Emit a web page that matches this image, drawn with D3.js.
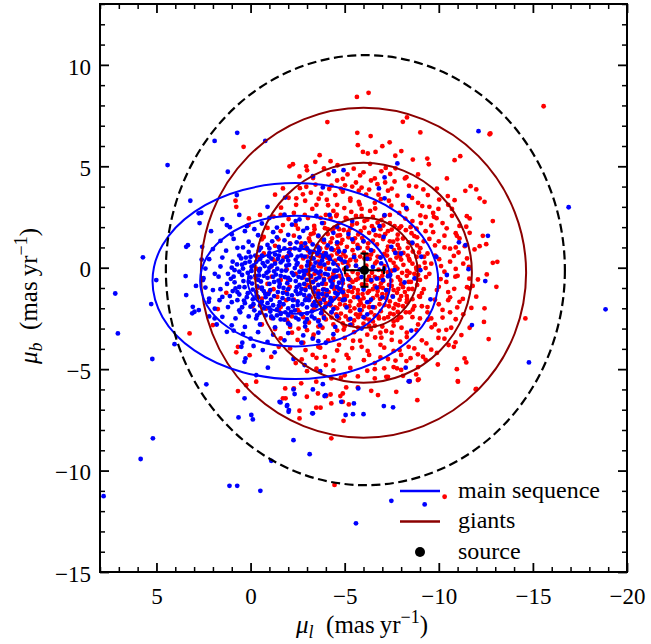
<!DOCTYPE html>
<html>
<head>
<meta charset="utf-8">
<script src="https://cdn.jsdelivr.net/npm/d3@7"></script>
<style>
  body { margin: 0; background: #fff; }
  svg text { font-family: "Liberation Serif", "Times New Roman", "DejaVu Serif", "Noto Serif", "FreeSerif", Times, serif; fill: #000; }
</style>
</head>
<body>
<script>
// Tick labels
const xTicks = [5, 0, -5, -10, -15, -20];
const yTicks = [10, 5, 0, -5, -10, -15];

// Source position and its errors (mas/yr)
const source = [-6.05, -0.12];
const sourceErr = [1.04, 0.82];

// Gaussian fits: centre, sigma, and the n-sigma contours drawn
const msCentre = [-2.38, -0.66];
const msSigma = [2.53, 1.61];
const giantsCentre = [-6.0, -0.25];
const giantsSigma = [2.88, 2.71];
const nSigma = [1, 2, 3];
const limitCircle = [-6.1, -0.12, 10.6];

// Giants (flat x,y lists)
const giantsCore = [
 -5.1,2.42, -5.65,2.18, -6.2,2.37, -6.75,2.22, -5.9,2.55, -6.5,2.5,
 -4.45,1.98, -4.95,1.86, -5.4,2.12, -6.05,1.97, -6.55,1.9, -7.05,2.08, -7.5,1.88, -4.7,2.2,
 -4.1,1.66, -4.62,1.58, -5.2,1.78, -5.72,1.64, -6.3,1.72, -6.85,1.57, -7.3,1.8, -7.82,1.63, -4.35,1.82,
 -3.82,1.33, -4.33,1.45, -4.88,1.37, -5.45,1.27, -5.93,1.46, -6.5,1.33, -7.04,1.41, -7.58,1.28, -8.1,1.44, -3.6,1.55,
 -3.55,1.08, -4.04,0.98, -4.6,1.16, -5.12,1.03, -5.68,1.12, -6.22,0.98, -6.72,1.15, -7.3,1.04, -7.82,1.12, -8.35,0.98, -8.6,1.2,
 -3.38,0.79, -3.9,0.72, -4.42,0.87, -4.93,0.7, -5.42,0.86, -6.02,0.74, -6.52,0.82, -7.1,0.68, -7.62,0.86, -8.12,0.73, -8.62,0.8,
 -3.28,0.45, -3.7,0.56, -4.22,0.43, -4.78,0.52, -5.3,0.38, -5.82,0.55, -6.33,0.44, -6.9,0.51, -7.42,0.38, -7.93,0.56, -8.42,0.44, -8.82,0.53,
 -3.18,0.18, -3.62,0.08, -4.12,0.24, -4.63,0.13, -5.14,0.26, -5.6,0.09, -6.62,0.21, -7.12,0.08, -7.6,0.24, -8.12,0.14, -8.6,0.2, -8.95,0.05,
 -3.1,-0.12, -3.52,-0.22, -4.02,-0.05, -4.5,-0.16, -4.98,-0.08, -5.42,-0.2, -6.8,-0.1, -7.3,-0.22, -7.8,-0.04, -8.32,-0.16, -8.82,-0.1,
 -3.22,-0.46, -3.72,-0.36, -4.2,-0.52, -4.7,-0.4, -5.2,-0.47, -5.72,-0.53, -6.3,-0.44, -6.82,-0.52, -7.32,-0.36, -7.83,-0.46, -8.3,-0.4, -8.78,-0.52,
 -3.3,-0.72, -3.82,-0.8, -4.38,-0.64, -4.9,-0.76, -5.42,-0.7, -5.92,-0.82, -6.42,-0.68, -6.93,-0.77, -7.48,-0.64, -8.0,-0.81, -8.52,-0.7,
 -3.42,-1.0, -3.9,-1.06, -4.42,-0.94, -4.92,-1.12, -5.48,-1.0, -6.02,-0.95, -6.5,-1.06, -7.02,-0.99, -7.6,-1.1, -8.1,-0.96, -8.6,-1.05,
 -3.52,-1.3, -4.02,-1.36, -4.6,-1.24, -5.12,-1.4, -5.7,-1.3, -6.22,-1.24, -6.72,-1.36, -7.24,-1.3, -7.78,-1.24, -8.3,-1.4,
 -3.7,-1.6, -4.22,-1.66, -4.72,-1.55, -5.3,-1.66, -5.82,-1.6, -6.3,-1.7, -6.88,-1.54, -7.4,-1.66, -7.92,-1.58, -8.32,-1.55,
 -4.0,-1.9, -4.5,-1.96, -5.02,-1.85, -5.52,-2.0, -6.02,-1.9, -6.6,-1.96, -7.12,-1.84, -7.6,-2.0, -8.1,-1.9,
 -4.3,-2.2, -4.8,-2.26, -5.3,-2.14, -5.82,-2.3, -6.4,-2.2, -6.92,-2.14, -7.42,-2.26, -7.82,-2.18,
 -4.7,-2.5, -5.2,-2.56, -5.72,-2.44, -6.3,-2.56, -6.82,-2.5, -7.3,-2.44, -5.4,-2.8, -6.0,-2.76, -6.6,-2.86,
 -4.8,1.2, -5.5,0.62, -6.7,0.3, -7.7,0.05, -4.4,-0.28, -5.6,-0.6, -6.6,-0.9, -7.2,-1.5, -5.0,-1.6, -4.0,-0.8,
 -3.6,0.3, -8.4,-0.7, -8.0,0.4, -7.4,1.3, -6.0,1.3, -5.2,1.5, -4.3,0.6, -3.9,-1.5, -5.9,-2.1, -6.8,-2.4,
 -7.7,-1.8, -8.7,-0.3, -4.6,-2.0, -5.4,-1.2, -6.2,-0.6, -7.0,-0.4, -6.4,0.65, -5.8,0.98, -4.9,0.25, -7.9,0.95,
 -3.45,-0.6, -4.7,1.9, -6.9,1.9, -5.95,-1.3, -7.5,-0.9, -8.2,-1.2, -3.9,1.25, -5.1,-0.35, -7.6,-2.3, -5.5,-2.6,
 -4.65,0.95, -5.2,0.1, -6.15,0.1, -6.45,-0.25, -5.25,-0.9, -6.75,-1.15, -7.05,-0.2, -7.75,0.5, -4.5,0.35, -6.05,0.45,
 -5.55,1.45, -6.65,1.6, -7.25,0.6, -4.95,-1.3, -5.85,-1.75, -7.3,-1.1, -3.75,0.05, -8.3,-1.7, -4.45,-1.05, -6.25,1.2,
 -6.35,2.8, -5.6,2.55, -7.4,2.2, -4.25,2.45, -8.45,0.35, -3.0,0.55, -3.05,-0.3, -8.9,-0.35, -4.0,-1.75, -8.05,-0.25
];
const giantsFill = [
 -3.35,1.7, -3.95,1.95, -4.55,2.55, -5.35,2.75, -6.05,2.3, -6.95,2.35, -7.65,2.05, -8.25,1.85, -8.85,1.5, -9.2,1.3,
 -3.15,1.3, -3.7,0.95, -4.25,1.25, -4.75,1.6, -5.3,1.95, -5.85,1.8, -6.45,2.05, -7.15,1.65, -7.8,1.4, -8.4,1.25,
 -3.05,0.85, -3.55,0.62, -4.05,0.5, -4.6,0.7, -5.05,0.55, -5.6,0.35, -6.2,0.62, -6.75,0.55, -7.25,0.85, -7.85,0.7,
 -8.35,0.6, -8.95,0.75, -9.25,0.25, -8.8,0.0, -8.45,-0.25, -7.95,-0.6, -7.5,-0.15, -7.05,-0.65, -6.6,-0.45, -6.15,-0.85,
 -5.7,-0.3, -5.3,-0.6, -4.85,-0.55, -4.35,-0.45, -3.9,-0.55, -3.4,-0.3, -3.0,-0.85, -3.6,-1.15, -4.15,-1.2, -4.7,-1.05,
 -5.2,-1.15, -5.7,-1.1, -6.3,-1.15, -6.85,-0.95, -7.35,-0.85, -7.85,-1.05, -8.4,-1.05, -8.85,-0.85, -9.1,-1.25, -8.6,-1.55,
 -8.0,-1.4, -7.55,-1.4, -7.0,-1.3, -6.5,-1.5, -6.0,-1.5, -5.5,-1.45, -4.95,-1.5, -4.45,-1.5, -3.95,-1.3, -3.35,-1.75,
 -3.8,-2.2, -4.25,-1.85, -4.75,-1.8, -5.25,-1.9, -5.75,-1.85, -6.3,-1.95, -6.85,-1.8, -7.35,-1.9, -7.85,-1.85, -8.45,-2.2,
 -8.0,-2.45, -7.6,-2.65, -7.1,-2.5, -6.6,-2.35, -6.1,-2.5, -5.6,-2.3, -5.05,-2.4, -4.55,-2.3, -4.0,-2.55, -4.4,-2.8,
 -4.95,-3.05, -5.7,-2.95, -6.3,-2.85, -6.9,-3.2, -7.6,-2.85, -8.3,-3.2, -3.6,-2.9, -3.35,-3.3, -7.9,1.95, -8.5,2.0,
 -4.0,2.6, -4.6,3.1, -5.05,2.45, -5.75,3.25, -6.6,3.2, -7.35,3.3, -8.1,3.1, -6.3,3.85, -7.15,4.2, -5.4,4.0,
 -4.3,4.05, -3.75,3.65, -2.9,3.3, -2.4,2.1, -2.1,1.2, -1.75,0.5, -1.6,-0.6, -1.9,-1.6, -2.2,-2.4, -2.55,-3.0,
 -9.5,-0.3, -9.8,0.6, -10.0,-1.8, -9.4,-2.2, -9.7,1.75, -10.3,1.0, -10.6,0.3, -10.5,-1.2, -9.3,2.5, -9.0,-2.5
];
const giantsMid = [
 -4.62,5.05, -5.48,4.88, -6.35,5.12, -7.18,4.92,
 -3.32,4.42, -4.14,4.6, -4.9,4.38, -5.82,4.55, -6.6,4.4, -7.42,4.62, -8.28,4.46,
 -2.62,3.92, -3.45,4.1, -4.18,3.88, -5.02,4.06, -5.9,3.95, -6.74,4.12, -7.5,3.9, -8.42,4.04, -9.18,3.86,
 -2.02,3.45, -2.78,3.62, -3.62,3.4, -4.5,3.58, -5.3,3.42, -6.14,3.6, -6.92,3.38, -7.8,3.55, -8.58,3.44, -9.42,3.58, -10.02,3.36,
 -1.62,2.96, -2.42,3.1, -3.28,2.9, -4.12,3.08, -4.98,2.94, -5.8,3.12, -6.62,2.92, -7.48,3.06, -8.3,2.88, -9.12,3.04, -9.98,2.9, -10.5,3.1,
 -1.22,2.52, -2.02,2.4, -2.88,2.6, -3.72,2.46, -4.58,2.62, -7.4,2.6, -8.22,2.42, -9.02,2.58, -9.88,2.44, -10.7,2.56,
 -0.9,1.96, -1.72,2.1, -2.52,1.92, -3.38,2.06, -4.1,1.9, -8.0,2.04, -8.82,1.92, -9.6,2.08, -10.42,1.94, -11.1,2.06,
 -0.7,1.52, -1.48,1.4, -2.3,1.58, -3.1,1.44, -8.7,1.56, -9.5,1.42, -10.3,1.58, -11.1,1.44,
 -0.52,0.98, -1.3,1.08, -2.1,0.92, -2.92,1.04, -9.02,0.96, -9.8,1.1, -10.6,0.94, -11.38,1.06,
 -0.4,0.52, -1.18,0.42, -2.0,0.58, -2.8,0.46, -9.22,0.54, -10.02,0.42, -10.8,0.58, -11.5,0.46,
 -0.3,-0.04, -1.1,0.06, -1.92,-0.08, -2.7,0.04, -9.3,-0.02, -10.12,0.08, -10.9,-0.06, -11.6,0.04,
 -0.28,-0.52, -1.12,-0.44, -1.98,-0.56, -2.8,-0.48, -9.32,-0.46, -10.1,-0.56, -10.88,-0.44, -11.62,-0.54,
 -0.42,-0.98, -1.22,-1.06, -2.08,-0.94, -2.9,-1.04, -9.2,-1.06, -10.0,-0.94, -10.82,-1.04, -11.5,-0.96,
 -0.6,-1.52, -1.42,-1.44, -2.3,-1.58, -3.2,-1.46, -9.0,-1.44, -9.8,-1.58, -10.6,-1.46, -11.28,-1.54,
 -0.82,-2.02, -1.6,-1.94, -2.5,-2.08, -3.4,-1.96, -8.62,-2.06, -9.4,-1.94, -10.2,-2.08, -10.98,-1.96,
 -1.1,-2.48, -1.92,-2.56, -2.8,-2.44, -3.62,-2.58, -4.3,-2.46, -7.8,-2.58, -8.6,-2.44, -9.42,-2.56, -10.2,-2.46, -10.9,-2.54,
 -1.3,-3.02, -2.1,-2.92, -3.0,-3.08, -3.82,-2.96, -4.6,-3.1, -5.5,-3.18, -6.4,-3.04, -7.2,-3.12, -8.02,-2.96, -8.82,-3.08, -9.62,-2.94, -10.4,-3.06,
 -1.6,-3.48, -2.5,-3.56, -3.32,-3.44, -4.12,-3.58, -5.0,-3.46, -5.82,-3.6, -6.62,-3.44, -7.5,-3.56, -8.3,-3.42, -9.1,-3.58, -9.98,-3.46,
 -2.1,-3.98, -2.92,-4.06, -3.7,-3.94, -4.6,-4.08, -5.4,-3.96, -6.22,-4.1, -7.1,-3.94, -7.92,-4.06, -8.7,-3.98, -9.6,-4.04,
 -2.72,-4.52, -3.5,-4.44, -4.4,-4.58, -5.2,-4.46, -6.02,-4.56, -6.9,-4.42, -7.7,-4.58, -8.5,-4.46, -9.3,-4.54,
 -3.5,-4.98, -4.4,-5.06, -5.3,-4.94, -6.2,-5.08, -7.1,-4.96, -8.0,-5.04, -4.8,-5.42, -5.7,-5.36, -6.6,-5.46, -7.3,-5.38,
 -3.0,4.8, -8.9,3.2, -10.9,1.0, -0.9,-0.8, -1.6,2.6, -9.8,-2.8, -4.0,-4.8, -7.6,-4.9, -2.2,-3.2, -10.5,-1.6,
 -8.2,4.4, -5.6,4.2, -1.3,0.3, -11.0,-0.4, -3.5,3.1, -6.9,-3.8, -5.0,-5.3, -0.6,1.4, -2.6,-2.2, -9.7,2.7,
 -4.8,3.9, -7.3,3.8, -10.3,-3.5, -1.9,-1.2, -8.0,-4.3, -3.3,-4.3,
 -5.3,3.3, -6.8,3.6, -4.4,2.8, -7.9,2.7, -3.9,2.2, -8.6,2.3, -5.9,2.9, -7.1,2.55, -4.9,3.75, -6.4,4.3,
 -9.3,1.8, -10.0,1.3, -3.4,1.9, -2.7,1.2, -9.6,0.2, -10.4,-0.7, -2.4,-0.3, -3.0,-1.5, -9.1,-1.9, -9.9,-1.1,
 -3.1,-2.7, -8.9,-2.8, -4.4,-3.5, -7.5,-3.2, -5.9,-3.9, -6.6,-4.7, -5.1,-4.3, -7.0,-2.9, -5.0,-2.9, -6.2,-3.3,
 -4.05,3.35, -5.75,3.8, -7.65,4.25, -8.8,4.0, -9.5,3.0, -10.2,2.2, -10.9,1.7, -11.3,0.2, -10.6,-2.2, -10.0,-3.1,
 -8.4,-3.9, -7.3,-4.5, -3.6,-3.9, -2.8,-3.7, -2.0,-2.7, -1.5,-2.1, -1.0,-1.2, -0.7,0.7, -1.6,1.8, -2.3,2.7,
 -3.2,3.7, -4.6,4.3, -6.0,4.7, -7.7,4.9, -6.95,4.75, -5.15,4.6, -8.85,1.1, -9.4,0.7, -9.0,-0.6, -8.95,-1.4,
 -3.9,-2.4, -4.9,-2.75, -6.5,-2.65, -7.9,-2.45, -8.7,-1.9, -3.3,-2.1, -3.2,1.65, -8.55,1.7, -9.05,2.2, -3.05,2.45,
 -5.45,-3.6, -6.95,-3.45, -7.95,-3.65, -4.7,-3.8, -3.95,-4.4, -6.3,-4.3, -7.6,-4.1, -8.25,-2.2, -9.6,-2.5, -10.3,-0.2,
 -11.9,0.9, -11.8,-0.9, -11.3,-2.3, -10.7,2.9, -9.9,3.9, -8.9,4.6, -3.9,4.9, -2.6,4.5, -1.3,3.6, -0.5,2.6,
 -0.1,-1.9, -0.6,-2.8, -1.5,-3.9, -2.4,-4.7, -3.0,-5.1, -6.6,-5.0, -8.9,-4.9, -9.9,-4.2, -10.8,-3.9, -1.1,-4.4
];
const giantsOuter = [
 -5.65,8.42, -6.27,8.62, -4.08,7.18, -8.09,7.19, -8.31,7.41, -9.02,6.67, -5.67,6.65, -6.38,6.49, -5.7,6.04, -7.39,6.18,
 -7.0,5.99, 0.37,5.96, -12.7,6.58, -15.57,7.96, -5.97,5.71, -6.23,5.63, -6.64,5.71, -8.01,5.75, -7.69,5.52, -10.84,5.3,
 -11.14,5.5, -9.39,5.38, -9.47,5.1, -8.62,5.33, -10.43,4.4, -11.69,4.02, -11.99,3.86, -11.41,3.79, -12.17,3.42, -12.43,3.25,
 -10.84,3.33, -10.48,3.53, -11.49,2.54, -12.87,2.3, -11.64,2.43, -11.46,2.02, -12.34,1.57, -12.52,1.16, -12.17,1.06, -12.87,0.24,
 -13.11,0.29, -11.05,0.75, -11.64,1.72, -10.96,1.57, -9.74,2.51,
 -2.25,5.1, -2.07,5.0, -2.96,5.0, -3.44,5.22, -3.67,5.55, -4.25,5.25, -1.72,3.91, -2.43,3.42, -2.96,3.99, 0.76,3.0,
 0.8,3.3, 0.09,2.43, 0.11,2.1,
 -13.06,-0.94, -12.55,-0.33, -12.43,-2.0, -11.99,-1.43, -12.08,-0.58, -12.4,-2.67, -12.65,-3.52, -11.64,-2.96, -11.37,-4.47, -11.46,-4.67,
 -10.96,-5.0, -11.01,-5.59, -9.95,-4.77, -9.34,-3.73, -10.52,-3.81, -10.89,-3.68, -11.2,-3.32, -10.66,-2.96, -11.73,-1.98, -11.64,-1.02,
 -11.1,-1.68, -14.6,-2.5, -11.99,-5.98, -8.86,-6.53, -11.02,-5.62, -11.96,-6.0,
 -6.77,-6.28, -7.74,-6.12, -8.1,-5.33, -8.89,-5.54, -7.21,-5.38, -7.78,-4.96, -8.28,-4.6, -8.89,-4.27, -9.16,-4.39, -8.8,-5.26,
 -8.45,-5.62, -8.93,-5.5, -6.41,-6.07, -5.7,-5.9, -5.22,-6.74, -4.9,-6.2, -4.77,-6.33, -4.29,-6.69, -3.49,-6.9, -3.72,-6.9,
 -4.02,-6.33, -3.58,-6.2, -2.99,-6.36, -1.84,-5.95, -1.72,-6.44, -2.3,-5.95, -2.69,-5.7, -3.49,-5.62, -4.29,-5.46, -5.08,-5.9,
 -4.29,-8.41, -4.94,-7.55, -2.6,-7.05, -2.6,-7.43, -4.9,-6.61, -4.46,-10.71, -10.31,-11.29, -4.25,-6.25,
 0.67,-6.08, 0.23,-5.79, -0.3,-5.62, 3.24,-3.24, -1.86,-6.44, 0.76,-4.17, 2.0,-2.83, 1.74,-2.04, 0.67,-3.9, 0.05,-4.31,
 1.29,-1.24, -12.74,6.62
];

// Main sequence stars (flat x,y lists)
const msCore = [
 -0.9,1.12, -1.5,1.02, -2.1,1.18, -2.7,1.05, -3.3,1.15,
 0.1,0.78, -0.45,0.86, -1.0,0.72, -1.55,0.84, -2.05,0.76, -2.6,0.88, -3.15,0.74, -3.65,0.85,
 0.5,0.46, 0.0,0.54, -0.5,0.42, -0.98,0.56, -1.45,0.44, -1.92,0.52, -2.4,0.4, -2.88,0.55, -3.35,0.46, -3.85,0.53, -4.2,0.44,
 0.72,0.16, 0.28,0.24, -0.18,0.12, -0.65,0.22, -1.12,0.1, -1.6,0.26, -2.05,0.14, -2.5,0.23, -3.0,0.1, -3.45,0.25, -3.92,0.15, -4.4,0.2,
 0.85,-0.12, 0.4,-0.04, -0.05,-0.16, -0.5,-0.06, -0.95,-0.18, -1.42,-0.05, -1.88,-0.14, -2.35,-0.02, -2.8,-0.16, -3.25,-0.08, -3.72,-0.18, -4.18,-0.06, -4.6,-0.14,
 0.9,-0.44, 0.45,-0.36, 0.0,-0.48, -0.45,-0.38, -0.9,-0.5, -1.35,-0.34, -1.82,-0.46, -2.28,-0.36, -2.72,-0.5, -3.2,-0.4, -3.65,-0.48, -4.1,-0.34, -4.55,-0.44,
 0.85,-0.72, 0.38,-0.66, -0.08,-0.78, -0.55,-0.68, -1.0,-0.8, -1.48,-0.64, -1.95,-0.76, -2.4,-0.66, -2.85,-0.8, -3.32,-0.7, -3.8,-0.78, -4.25,-0.64, -4.7,-0.74,
 0.8,-1.02, 0.32,-0.96, -0.12,-1.08, -0.6,-0.98, -1.05,-1.1, -1.52,-0.94, -2.0,-1.06, -2.45,-0.96, -2.92,-1.1, -3.4,-1.0, -3.85,-1.08, -4.3,-0.94, -4.72,-1.04,
 0.6,-1.32, 0.15,-1.26, -0.32,-1.38, -0.78,-1.28, -1.25,-1.4, -1.72,-1.24, -2.2,-1.36, -2.65,-1.26, -3.12,-1.38, -3.6,-1.28, -4.05,-1.36, -4.5,-1.24,
 0.35,-1.62, -0.12,-1.56, -0.6,-1.68, -1.08,-1.58, -1.55,-1.7, -2.02,-1.54, -2.5,-1.66, -2.95,-1.56, -3.42,-1.68, -3.9,-1.58, -4.3,-1.64,
 0.0,-1.92, -0.5,-1.86, -1.0,-1.98, -1.5,-1.88, -2.0,-2.0, -2.5,-1.84, -3.0,-1.96, -3.5,-1.88, -3.95,-1.96,
 -0.5,-2.22, -1.05,-2.16, -1.6,-2.28, -2.15,-2.18, -2.7,-2.3, -3.25,-2.16, -3.75,-2.24,
 -1.2,-2.5, -1.8,-2.56, -2.4,-2.46, -3.0,-2.54,
 -1.3,0.65, -2.2,-0.25, -0.3,-1.2, -3.6,-0.25, -1.7,-1.5, -2.7,0.6, -0.7,-0.4, -3.1,-1.6, -0.9,0.3, -2.5,-1.3,
 -4.0,0.7, 0.6,0.6, -1.1,-2.4, -3.4,-2.5, 1.1,-1.4, -4.9,-0.6,
 -0.25,0.6, -0.75,0.08, -1.25,-0.18, -1.7,0.35, -2.15,0.62, -2.6,-0.2, -3.05,0.3, -3.5,-0.55, -3.95,-0.3, -4.35,-0.8,
 0.15,-0.25, 0.6,-0.95, -0.35,-0.92, -0.8,-1.45, -1.25,-0.7, -1.75,-1.0, -2.25,-1.6, -2.7,-1.05, -3.15,-0.95, -3.6,-1.45,
 -4.05,-1.1, -4.45,-0.15, 0.3,-1.75, -0.2,-2.1, -0.9,-1.75, -1.4,-2.05, -1.85,-2.2, -2.35,-2.1, -2.85,-1.35, -3.3,-1.85,
 -3.8,-2.05, -0.55,0.98, -1.15,1.3, -1.8,1.35, -2.45,1.25, -3.0,0.95, -3.6,1.0, -4.1,1.1, -0.1,1.1, 0.4,1.0,
 0.95,0.3, 1.2,-0.3, 1.25,-0.8, 1.0,-1.7, 0.55,-2.2, -0.3,-2.5, -2.0,-2.75, -2.9,-2.7, -3.6,-2.65, -4.3,-2.2,
 -4.9,-1.6, -5.0,0.3, -4.7,0.8, -1.0,0.0, -2.85,-0.35, -1.6,-0.4, -0.45,-0.15, -3.35,0.05, -2.0,-0.5, -1.3,0.2,
 0.05,0.3, -3.8,0.35, -4.25,-1.5, -0.7,-1.15, -2.45,0.15, -3.0,-2.25, -1.6,-2.55, 0.7,-1.6
];
const msFill = [
 0.45,0.15, -0.05,0.05, -0.6,0.6, -1.1,0.45, -1.5,0.6, -2.0,0.35, -2.5,0.55, -3.2,0.5, -3.7,0.2, -4.15,0.55,
 0.6,-0.2, 0.1,-0.7, -0.4,-0.6, -0.85,-0.25, -1.2,-0.45, -1.65,-0.15, -2.1,-0.6, -2.55,-0.45, -3.0,-0.6, -3.45,-0.15,
 -3.9,-0.6, -4.4,-0.5, 0.7,-1.2, 0.2,-1.45, -0.4,-1.45, -0.95,-1.3, -1.45,-1.2, -1.95,-1.3, -2.4,-1.15, -2.9,-1.6,
 -3.35,-1.2, -3.8,-1.3, -4.2,-1.8, -0.15,-1.8, -0.7,-2.0, -1.2,-1.85, -1.75,-1.8, -2.25,-1.9, -2.75,-1.8, -3.25,-2.4,
 -3.7,-1.75, -0.8,-2.35, -1.4,-2.35, -2.0,-2.35, -2.55,-2.55, -1.0,0.95, -1.8,0.95, -2.35,0.95, -2.9,1.2, -0.3,0.3,
 -4.6,-1.3, -4.7,0.45, 1.0,0.0, 1.05,-0.55, 0.95,-1.15, -0.25,-0.4, -1.9,0.1, -2.95,-0.15, -3.55,0.7, -4.3,0.9,
 0.25,0.5, -0.6,-1.05, -1.55,-0.8, -2.6,-0.85, -3.6,-0.85, -4.6,-0.95, 0.45,-1.95, -0.35,-2.35, -2.6,1.5, -1.4,1.5
];
const msMid = [
 -1.0,2.45, -1.8,2.62, -2.6,2.38, -3.5,2.55,
 0.2,2.05, -0.6,2.18, -1.4,1.98, -2.2,2.12, -3.0,1.95, -3.8,2.2, -4.6,2.02,
 1.0,1.65, 0.3,1.8, -0.4,1.6, -1.2,1.75, -2.0,1.62, -2.8,1.82, -3.6,1.58, -4.4,1.72, -5.2,1.66,
 1.6,1.32, 0.9,1.42, 0.1,1.28, -3.9,1.38, -4.6,1.25, -5.4,1.4, -6.0,1.3,
 2.0,0.92, 1.3,0.84, 0.7,0.98, -4.3,0.95, -5.0,0.82, -5.7,0.96, -6.4,0.86,
 2.2,0.42, 1.5,0.5, -4.8,0.4, -5.5,0.52, -6.2,0.44, -6.9,0.5,
 2.4,-0.04, 1.6,0.06, -5.1,0.02, -5.8,-0.08, -6.5,0.04, -7.1,-0.06,
 2.5,-0.52, 1.7,-0.44, -5.2,-0.56, -5.9,-0.46, -6.7,-0.54, -7.3,-0.42,
 2.4,-0.98, 1.6,-1.06, -5.3,-0.94, -6.0,-1.08, -6.7,-0.98, -7.2,-1.1,
 2.2,-1.52, 1.5,-1.44, -5.0,-1.56, -5.7,-1.46, -6.4,-1.58, -7.0,-1.46,
 1.9,-2.02, 1.2,-1.94, 0.6,-2.1, -4.4,-2.04, -5.1,-1.96, -5.8,-2.08, -6.5,-1.94,
 1.5,-2.42, 0.8,-2.5, 0.1,-2.4, -3.9,-2.48, -4.6,-2.4, -5.3,-2.52, -6.0,-2.44,
 1.0,-2.84, 0.3,-2.92, -0.5,-2.8, -1.3,-2.94, -2.1,-2.82, -2.9,-2.9, -3.7,-2.84, -4.5,-2.92, -5.3,-2.82,
 0.4,-3.26, -0.4,-3.18, -1.2,-3.3, -2.0,-3.22, -2.8,-3.34, -3.6,-3.2, -4.4,-3.28,
 -0.9,-3.66, -1.8,-3.58, -2.7,-3.7, -3.6,-3.62,
 -0.2,1.9, -4.9,-1.2, 1.9,-0.3, -2.4,2.3, -6.2,-1.7, 0.9,-3.1, -3.3,-3.5, -5.6,0.1,
 1.5,2.4, 2.1,1.8, 0.6,2.6, -0.9,3.0, 2.6,0.4, 2.9,-0.9, 1.8,-2.8, 0.0,-3.5, -4.2,2.6, -5.4,2.3,
 -6.2,-2.3, -5.9,-3.0, -4.0,-3.7, 2.2,-2.4, 1.1,2.0
];
const msOuter = [
 4.41,5.06, 1.91,6.25, 3.2,3.3, 5.72,0.51, 7.19,-1.27, 5.28,-1.79, 2.76,2.68, 2.71,2.2, 3.42,1.03, 3.33,1.11,
 2.57,1.03, 3.45,-0.41, 2.53,-0.61, 3.42,-1.35, 3.07,-1.93, 3.1,-2.25, 2.75,-2.09, 2.22,-1.68, 2.0,-1.1, 1.65,-1.6,
 7.05,-3.24, 5.22,-4.5, 7.81,-11.26, 5.19,-8.41, 5.84,-9.43, 4.04,-3.77, 2.35,-5.75, 0.32,-6.44, 0.64,-7.38, -0.04,-7.26,
 -0.12,-7.48, 1.12,-10.75, 0.71,-10.75, -0.52,-11.0, -1.1,-9.52, -2.28,-8.5, -3.14,-9.19, -0.92,-4.93, -0.3,-5.29, 0.27,-4.47,
 0.49,-3.9, -1.54,-6.61, -1.93,-6.82, -2.04,-7.02, -2.28,-6.0, -3.31,-7.18, -3.31,-6.0, -3.93,-6.33,
 -5.6,-12.6, -7.48,-11.49, -9.25,-11.67, -18.86,-2.05, -16.9,2.98, -14.79,-4.67, -12.11,6.73, -11.76,-2.83, -12.47,-0.66, -12.61,1.57,
 -11.07,1.25, -11.42,1.11, -9.87,0.54, -8.54,-3.1, -8.24,-4.93, -8.45,-5.59, -7.08,-6.82, -7.57,-6.88, -5.05,-7.26, -5.44,-7.22,
 -6.0,-7.22, -4.82,-6.61, -5.49,-6.69, -3.99,-6.28, -1.59,-6.64, -1.95,-6.77, -2.34,-6.23, -3.84,-5.74, -5.72,-5.95, -8.4,-5.6,
 -3.28,-7.18, -2.02,-7.1,
 0.71,6.65, -0.78,6.25, 1.21,4.73, 0.73,3.58, 1.26,2.1, 2.62,2.71, -4.43,4.76, -3.31,4.51, -4.94,4.81, -1.84,3.46, -3.84,3.96,
 -7.8,5.14, -7.12,4.45, -6.82,3.91, -7.12,3.42, -8.41,3.54, -8.27,2.95, -7.12,2.59, -6.85,2.05, -7.07,1.52, -7.48,1.03,
 -8.59,1.23, -9.07,0.54, -7.69,0.73, -8.0,0.7, -6.94,0.21, -6.54,1.85,
 -10.43,-0.36, -11.58,-0.07, -9.56,-1.56, -7.56,-1.43, -8.18,-0.73, -8.71,-0.53, -7.65,-0.12, -7.03,-0.61, -9.02,-0.12, -6.41,-0.61,
 -7.42,-0.36, 0.32,-4.64, 1.26,-3.16, 2.98,-2.17, 1.91,-2.5, 0.44,-3.7, -0.16,-3.86, -0.65,-4.06, -1.28,-4.17, -2.28,-4.5,
 -2.87,-4.8, -3.7,-5.1, 5.01,-0.61
];

function pairs(a) {
  const out = [];
  for (let i = 0; i < a.length; i += 2) out.push([a[i], a[i + 1]]);
  return out;
}

const width = 651, height = 644;
const plotL = 100, plotR = 627, plotT = 4, plotB = 572;
const serif = '"Liberation Serif", "Times New Roman", "DejaVu Serif", "Noto Serif", FreeSerif, Times, serif';

const svg = d3.select("body").append("svg").attr("width", width).attr("height", height)
  .attr("font-family", serif);

const x = d3.scaleLinear().domain([8, -20]).range([plotL, plotR]);
const y = d3.scaleLinear().domain([-15, 13]).range([plotB, plotT]);

svg.append("clipPath").attr("id", "plot").append("rect")
  .attr("x", plotL).attr("y", plotT).attr("width", plotR - plotL).attr("height", plotB - plotT);

const plot = svg.append("g").attr("clip-path", "url(#plot)");

const giants = pairs(giantsCore).concat(pairs(giantsFill), pairs(giantsMid), pairs(giantsOuter));
const ms = pairs(msCore).concat(pairs(msFill), pairs(msMid), pairs(msOuter));

//Scatter points: giants first, main sequence on top.
plot.append("g").selectAll("circle").data(giants).enter().append("circle")
  .attr("cx", d => x(d[0])).attr("cy", d => y(d[1])).attr("r", 2.4).attr("fill", "#ff0000");
plot.append("g").selectAll("circle").data(ms).enter().append("circle")
  .attr("cx", d => x(d[0])).attr("cy", d => y(d[1])).attr("r", 2.4).attr("fill", "#0000ff");

//n-sigma contours.
function contours(centre, sigma, colour) {
  plot.append("g").selectAll("ellipse").data(nSigma).enter().append("ellipse")
    .attr("cx", x(centre[0])).attr("cy", y(centre[1]))
    .attr("rx", n => Math.abs(x(centre[0] + n * sigma[0]) - x(centre[0])))
    .attr("ry", n => Math.abs(y(centre[1] + n * sigma[1]) - y(centre[1])))
    .attr("fill", "none").attr("stroke", colour).attr("stroke-width", 2);
}
contours(giantsCentre, giantsSigma, "#8b0000");
contours(msCentre, msSigma, "#0000ff");

plot.append("ellipse")
  .attr("cx", x(limitCircle[0])).attr("cy", y(limitCircle[1]))
  .attr("rx", Math.abs(x(limitCircle[0] + limitCircle[2]) - x(limitCircle[0])))
  .attr("ry", Math.abs(y(limitCircle[1] + limitCircle[2]) - y(limitCircle[1])))
  .attr("fill", "none").attr("stroke", "#000").attr("stroke-width", 2.2)
  .attr("stroke-dasharray", "9,4.5");

//Source with error bars.
const src = plot.append("g").attr("stroke", "#000").attr("stroke-width", 2);
const sx = x(source[0]), sy = y(source[1]);
const sx0 = x(source[0] + sourceErr[0]), sx1 = x(source[0] - sourceErr[0]);
const sy0 = y(source[1] + sourceErr[1]), sy1 = y(source[1] - sourceErr[1]);
src.append("line").attr("x1", sx0).attr("x2", sx1).attr("y1", sy).attr("y2", sy);
src.append("line").attr("x1", sx).attr("x2", sx).attr("y1", sy0).attr("y2", sy1);
[sx0, sx1].forEach(v => src.append("line").attr("x1", v).attr("x2", v).attr("y1", sy - 4).attr("y2", sy + 4));
[sy0, sy1].forEach(v => src.append("line").attr("y1", v).attr("y2", v).attr("x1", sx - 4).attr("x2", sx + 4));
src.append("circle").attr("cx", sx).attr("cy", sy).attr("r", 4.6).attr("fill", "#000").attr("stroke", "none");

//Axes: inward ticks on every side.
const xMinor = d3.range(-20, 9).filter(v => v % 5 !== 0);
const yMinor = d3.range(-15, 14).filter(v => v % 5 !== 0);
const fmt = d => (d < 0 ? "\u2212" + Math.abs(d) : "" + d);

function axis(gen, tx, ty, values, size, labels) {
  const g = svg.append("g").attr("transform", `translate(${tx},${ty})`)
    .call(gen.tickValues(values).tickSize(-size).tickSizeOuter(0)
      .tickFormat(labels ? fmt : ""));
  g.select(".domain").remove();
  g.attr("font-family", serif);
  g.selectAll(".tick line").attr("stroke", "#000").attr("stroke-width", size > 6 ? 1.8 : 1.5);
  g.selectAll("text").attr("font-size", 23);
  return g;
}
axis(d3.axisBottom(x).tickPadding(16), 0, plotB, xTicks, 9, true);
axis(d3.axisBottom(x), 0, plotB, xMinor, 5, false);
axis(d3.axisTop(x), 0, plotT, xTicks, 9, false);
axis(d3.axisTop(x), 0, plotT, xMinor, 5, false);
axis(d3.axisLeft(y).tickPadding(9), plotL, 0, yTicks, 9, true).selectAll("text").attr("dy", "0.4em");
axis(d3.axisLeft(y), plotL, 0, yMinor, 5, false);
axis(d3.axisRight(y), plotR, 0, yTicks, 9, false);
axis(d3.axisRight(y), plotR, 0, yMinor, 5, false);

svg.append("rect").attr("x", plotL).attr("y", plotT).attr("width", plotR - plotL).attr("height", plotB - plotT)
  .attr("fill", "none").attr("stroke", "#000").attr("stroke-width", 2);

//Axis labels.
function axisLabel(el, sub) {
  el.attr("font-size", 25).attr("text-anchor", "middle");
  el.append("tspan").attr("font-style", "italic").text("\u03bc");
  el.append("tspan").attr("font-style", "italic").attr("font-size", 18).attr("dy", 5).text(sub);
  el.append("tspan").attr("dy", -5).text("\u2002(mas\u2009yr");
  el.append("tspan").attr("font-size", 18).attr("dy", -10).text("\u22121");
  el.append("tspan").attr("dy", 10).text(")");
}
axisLabel(svg.append("text").attr("x", 362).attr("y", 633), "l");
axisLabel(svg.append("text").attr("transform", "translate(37,296) rotate(-90)"), "b");

//Legend.
const legend = svg.append("g").attr("id", "legend");
const legendItems = ["main sequence", "giants", "source"];
const legendColours = ["#0000ff", "#8b0000", "#000"];
legendItems.forEach((name, i) => {
  const ly = 491 + i * 30.5;
  if (i < 2) {
    legend.append("line").attr("x1", 400).attr("x2", 440).attr("y1", ly).attr("y2", ly)
      .attr("stroke", legendColours[i]).attr("stroke-width", 2.4);
  } else {
    legend.append("circle").attr("cx", 420).attr("cy", ly).attr("r", 5).attr("fill", legendColours[i]);
  }
  legend.append("text").attr("x", 458).attr("y", ly + 6.5).attr("font-size", 24).text(name);
});
</script>
</body>
</html>
